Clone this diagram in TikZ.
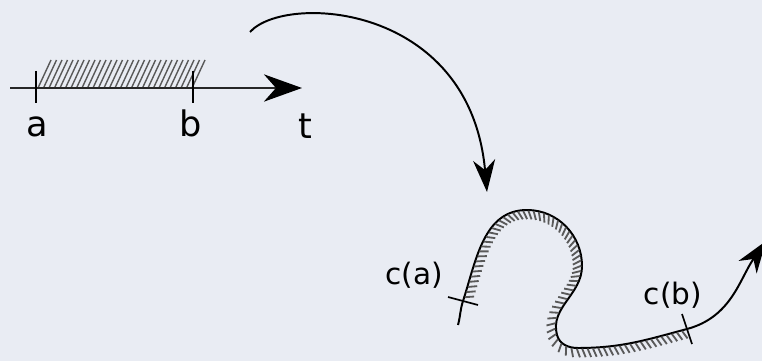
\documentclass[tikz,border=0pt]{standalone}
\usepackage{fontspec}
\setmainfont{DejaVu Sans}
\usetikzlibrary{arrows.meta,decorations.markings}
\begin{document}
\begin{tikzpicture}[x=0.025cm,y=0.025cm,
  axis/.style={line width=2pt, draw=black!85, -{Stealth[length=0.95cm,width=0.68cm,inset=0.3cm,black]}},
  curvearrow/.style={line width=1.4pt, -{Stealth[length=0.8cm,width=0.55cm,inset=0.25cm]}},
  hatch/.style={draw=black!65, line width=1pt},
  hatched/.style={postaction={decorate, decoration={markings,
      mark=between positions 0.01 and 0.99 step 3.8pt with
      {\draw[hatch, line width=1.3pt] (0pt,-0.5pt) -- (-70:7pt);}}}},
  tickmark/.style={line width=1.2pt},
  biglabel/.style={font=\fontsize{25}{30}\selectfont, anchor=base},
  smalllabel/.style={font=\fontsize{21}{25}\selectfont, anchor=base}]

  % --- Farben ---
  \definecolor{bgcol}{HTML}{E9ECF3}

  % --- Hintergrund ---
  \fill[bgcol] (0,0) rectangle (762,361);
  \useasboundingbox (0,0) rectangle (762,361);

  % --- Zeitachse ---
  \coordinate (t0) at (10,273);
  \coordinate (t1) at (302,273);
  \coordinate (ta) at (36,273);
  \coordinate (tb) at (193,273);

  % Schraffur zwischen a und b
  \foreach \x in {38,43.5,...,194}
    \draw[hatch] (\x,273) -- ++(13,28);

  \draw[axis] (t0) -- (t1);
  \draw[tickmark] (ta) ++(0,17) -- ++(0,-32);
  \draw[tickmark] (tb) ++(0,17) -- ++(0,-32);

  \node[biglabel] (la) at (37,224) {a};
  \node[biglabel] (lb) at (191,224) {b};
  \node[biglabel] (lt) at (305,222) {t};

  % --- Abbildungspfeil ---
  \coordinate (arcS) at (250,329);
  \coordinate (arcE) at (487,169);
  \draw[curvearrow] (arcS) .. controls (285,368) and (470,358) .. (arcE);

  % --- Kurve c ---
  \coordinate (cS) at (458,36);
  \coordinate (cA) at (463,60);
  \coordinate (cT) at (527,151);
  \coordinate (cR) at (582,95);
  \coordinate (cL) at (557,26);
  \coordinate (cU) at (578,13);
  \coordinate (cB) at (687,32);
  \coordinate (cE) at (766,120);

  % Stueck vor c(a) und nach c(b)
  \draw[line width=1.4pt] (cS) to[out=75,in=252] (cA);
  \draw[curvearrow] (cB) to[out=15,in=235] (cE);

  % schraffiertes Stueck von c(a) bis c(b)
  \draw[line width=1.4pt, hatched]
    (cA) to[out=72,in=180] (cT) to[out=0,in=90] (cR)
    to[out=-90,in=105] (cL) to[out=-75,in=180] (cU) to[out=0,in=195] (cB);

  % Markierungen
  \draw[tickmark] (cA) ++(-15,4) -- ++(30,-8);
  \draw[tickmark] (cB) ++(-5,15) -- ++(10,-30);

  \node[smalllabel] (lca) at (414,76) {c(a)};
  \node[smalllabel] (lcb) at (673,56) {c(b)};

\end{tikzpicture}
\end{document}
